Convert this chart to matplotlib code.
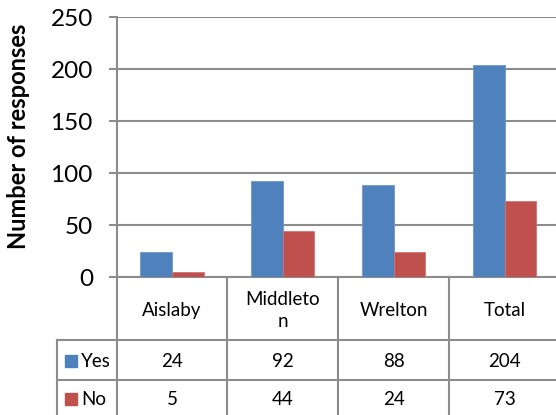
import matplotlib.pyplot as plt
import numpy as np

# -----------------------------
# Data
# -----------------------------
categories = ["Aislaby", "Middleto\nn", "Wrelton", "Total"]
yes_values = [24, 92, 88, 204]
no_values = [5, 44, 24, 73]
series_names = ["Yes", "No"]
yticks = [0, 50, 100, 150, 200, 250]

blue = "#4F81BD"
red = "#C0504D"
grid_col = "#8C8C8C"

plt.rcParams["font.family"] = ["Lato", "DejaVu Sans"]

W, H = 556, 415
fig = plt.figure(figsize=(W / 100, H / 100), dpi=100, facecolor="white")


def fx(px):
    return px / W


def fy(py):
    return 1 - py / H


# main plot area in pixel coords
x0, x1 = 116.5, 560.0
y_top, y_zero = 17.0, 277.0
ax = fig.add_axes([fx(x0), fy(y_zero), fx(x1 - x0), (y_zero - y_top) / H])

# -----------------------------
# Bars
# -----------------------------
x = np.arange(len(categories))
bw = 1 / 3.5
ax.bar(x - bw / 2, yes_values, bw, color=blue, edgecolor="#6E97C8", linewidth=0.6, zorder=3)
ax.bar(x + bw / 2, no_values, bw, color=red, edgecolor="#D07573", linewidth=0.6, zorder=3)

ax.set_xlim(-0.5, len(categories) - 0.5)
ax.set_ylim(0, 250)
ax.set_yticks(yticks)
ax.set_xticks([])
ax.yaxis.grid(True, color=grid_col, linewidth=1.5, zorder=0)
ax.tick_params(axis="y", length=6, width=1.5, color=grid_col, pad=11, labelsize=17.5)

for s in ["top", "right"]:
    ax.spines[s].set_visible(False)
ax.spines["left"].set_color(grid_col)
ax.spines["left"].set_linewidth(1.5)
ax.spines["bottom"].set_color(grid_col)
ax.spines["bottom"].set_linewidth(1.5)

fig.text(fx(19), fy(136), "Number of responses", rotation=90, ha="center", va="center",
         fontsize=17, fontweight="bold")

# -----------------------------
# Data table (drawn in pixel space)
# -----------------------------
tab = fig.add_axes([0, 0, 1, 1], facecolor="none")
tab.set_xlim(0, W)
tab.set_ylim(H, 0)
tab.axis("off")

cell_w = (x1 - x0) / len(categories)
row_cat = (277, 340)
row_yes = (340, 380)
row_no = (380, 420)
leg_x = 57
lw = 1.5
fs = 13.5

# vertical lines
for i in range(len(categories) + 1):
    xx = x0 + i * cell_w
    tab.plot([xx, xx], [y_zero, 420], color=grid_col, linewidth=lw)
tab.plot([leg_x, leg_x], [row_yes[0], 420], color=grid_col, linewidth=lw)
# horizontal lines
for yy in [row_yes[0], row_no[0]]:
    tab.plot([leg_x, x1], [yy, yy], color=grid_col, linewidth=lw)

for i, cat in enumerate(categories):
    cx = x0 + (i + 0.5) * cell_w
    tab.text(cx, sum(row_cat) / 2 + 2, cat, ha="center", va="center", fontsize=fs,
             linespacing=1.4)
    tab.text(cx, sum(row_yes) / 2 + 1, str(yes_values[i]), ha="center", va="center", fontsize=fs)
    tab.text(cx, sum(row_no) / 2 - 1, str(no_values[i]), ha="center", va="center", fontsize=fs)

for name, col, row, dy in [(series_names[0], blue, row_yes, 1), (series_names[1], red, row_no, -1)]:
    cy = sum(row) / 2 + dy
    tab.add_patch(plt.Rectangle((65, cy - 6), 12, 12, color=col))
    tab.text(81, cy, name, ha="left", va="center", fontsize=fs)

plt.savefig("out.png", dpi=100)
